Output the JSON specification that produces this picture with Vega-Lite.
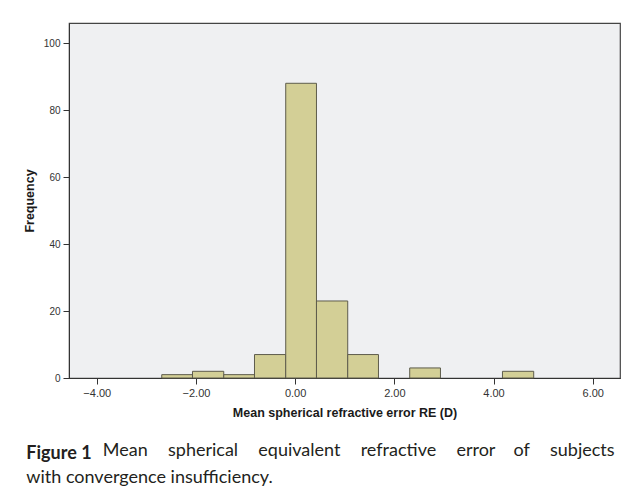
{
  "$schema": "https://vega.github.io/schema/vega-lite/v6.json",
  "width": 551,
  "height": 355,
  "autosize": "none",
  "padding": {"left": 69, "top": 23, "right": 5, "bottom": 119},
  "background": "#ffffff",
  "data": {
    "values": [
      {"bin_start": -2.69, "bin_end": -2.07, "count": 1},
      {"bin_start": -2.07, "bin_end": -1.44, "count": 2},
      {"bin_start": -1.44, "bin_end": -0.82, "count": 1},
      {"bin_start": -0.82, "bin_end": -0.19, "count": 7},
      {"bin_start": -0.19, "bin_end": 0.43, "count": 88},
      {"bin_start": 0.43, "bin_end": 1.06, "count": 23},
      {"bin_start": 1.06, "bin_end": 1.68, "count": 7},
      {"bin_start": 2.31, "bin_end": 2.93, "count": 3},
      {"bin_start": 4.18, "bin_end": 4.81, "count": 2}
    ]
  },
  "title": {
    "text": "Figure 1",
    "subtitle": ["\u200b\u2003\u2003\u2003\u2003\u2003\u2002Mean\u2002\u2002\u2009spherical\u2002\u2002\u2009equivalent\u2002\u2002\u2009refractive\u2002\u2002\u2009error\u2002\u2002of\u2002\u2002\u2009subjects", "with convergence insufficiency."],
    "orient": "bottom",
    "anchor": "start",
    "frame": "bounds",
    "offset": 26,
    "dx": 3,
    "font": "Lato",
    "fontSize": 18,
    "fontWeight": "bold",
    "color": "#231f20",
    "subtitleFont": "Lato",
    "subtitleFontSize": 18,
    "subtitleFontWeight": "normal",
    "subtitleColor": "#231f20",
    "subtitlePadding": -21,
    "subtitleLineHeight": 27
  },
  "mark": {"type": "rect", "fill": "#d3cf96", "stroke": "#5e5c4c", "strokeWidth": 1},
  "encoding": {
    "x": {
      "field": "bin_start",
      "type": "quantitative",
      "scale": {"domain": [-4.56, 6.55], "nice": false, "zero": false},
      "axis": {
        "values": [-4, -2, 0, 2, 4, 6],
        "format": ".2f",
        "title": "Mean spherical refractive error RE (D)",
        "grid": false
      }
    },
    "x2": {"field": "bin_end"},
    "y": {
      "field": "count",
      "type": "quantitative",
      "scale": {"domain": [0, 106], "nice": false},
      "axis": {
        "values": [0, 20, 40, 60, 80, 100],
        "title": "Frequency",
        "grid": false,
        "labelFontSize": 10,
        "titlePadding": 7
      }
    },
    "y2": {"datum": 0}
  },
  "config": {
    "view": {"fill": "#eff0f2", "stroke": "#444444", "strokeWidth": 1.2},
    "axis": {
      "domain": true,
      "domainColor": "#333333",
      "tickColor": "#333333",
      "tickSize": 6,
      "labelFont": "Liberation Sans",
      "labelFontSize": 11,
      "labelColor": "#333333",
      "labelPadding": 3,
      "titleFont": "Liberation Sans",
      "titleFontSize": 12.5,
      "titleFontWeight": "bold",
      "titleColor": "#1a1a1a",
      "titlePadding": 8
    }
  }
}
